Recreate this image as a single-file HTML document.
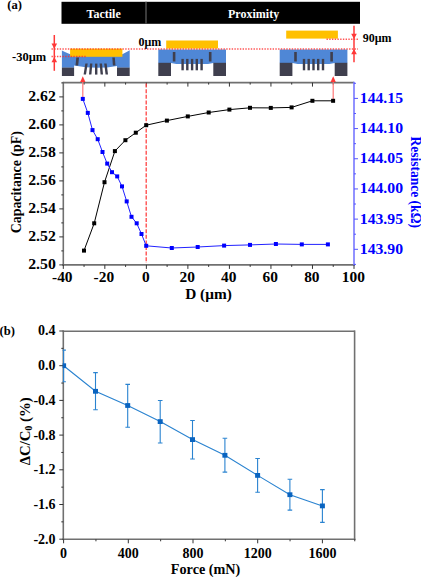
<!DOCTYPE html>
<html><head><meta charset="utf-8"><style>
html,body{margin:0;padding:0;background:#fff;}
svg{display:block;font-family:"Liberation Serif", serif;font-weight:bold;}
</style></head><body>
<svg width="421" height="577" viewBox="0 0 421 577">
<rect width="421" height="577" fill="#fff"/>
<text x="7.20" y="9.30" font-size="12.6" text-anchor="start" fill="#000" >(a)</text>
<rect x="61.50" y="1.80" width="298.50" height="22.00" fill="#000" />
<rect x="145.20" y="1.80" width="1.60" height="22.00" fill="#4a4a4a" />
<text x="103.60" y="17.80" font-size="12" text-anchor="middle" fill="#fff" >Tactile</text>
<text x="253.60" y="17.80" font-size="12" text-anchor="middle" fill="#fff" >Proximity</text>
<rect x="166.2" y="40.5" width="51.8" height="8.0" fill="#ffc000"/>
<path d="M158.3,49.5 H226.0 V63 H213.3 L208.0,64.0 H176.3 L171.0,63 H158.3 Z" fill="#4f87d6"/>
<rect x="158.30" y="62.80" width="12.70" height="13.20" fill="#3f3f4e" />
<rect x="213.30" y="62.80" width="12.70" height="13.20" fill="#3f3f4e" />
<rect x="172.80" y="52.00" width="2.60" height="9.50" fill="#3f3f4e" />
<rect x="208.90" y="52.00" width="2.60" height="9.50" fill="#3f3f4e" />
<rect x="181.40" y="58.90" width="2.40" height="11.40" fill="#3f3f4e" />
<rect x="186.10" y="58.90" width="2.40" height="11.40" fill="#3f3f4e" />
<rect x="190.90" y="58.90" width="2.40" height="11.40" fill="#3f3f4e" />
<rect x="195.60" y="58.90" width="2.40" height="11.40" fill="#3f3f4e" />
<rect x="200.40" y="58.90" width="2.40" height="11.40" fill="#3f3f4e" />
<rect x="286.2" y="30.6" width="51.7" height="8.0" fill="#ffc000"/>
<path d="M279.7,49.5 H347.4 V63 H334.7 L329.4,64.0 H297.7 L292.4,63 H279.7 Z" fill="#4f87d6"/>
<rect x="279.70" y="62.80" width="12.70" height="13.20" fill="#3f3f4e" />
<rect x="334.70" y="62.80" width="12.70" height="13.20" fill="#3f3f4e" />
<rect x="294.20" y="52.00" width="2.60" height="9.50" fill="#3f3f4e" />
<rect x="330.30" y="52.00" width="2.60" height="9.50" fill="#3f3f4e" />
<rect x="302.80" y="58.90" width="2.40" height="11.40" fill="#3f3f4e" />
<rect x="307.50" y="58.90" width="2.40" height="11.40" fill="#3f3f4e" />
<rect x="312.30" y="58.90" width="2.40" height="11.40" fill="#3f3f4e" />
<rect x="317.00" y="58.90" width="2.40" height="11.40" fill="#3f3f4e" />
<rect x="321.80" y="58.90" width="2.40" height="11.40" fill="#3f3f4e" />
<path d="M61.9,50.6 Q66,52.6 70.2,54.2 L122.3,54.2 Q126,52.4 129.7,50.2 V67.8 H117 V65.9 Q96,70 74.1,65.4 V67.8 H61.9 Z" fill="#4f87d6"/>
<rect x="70.1" y="48.6" width="52.3" height="8.2" fill="#ffc000"/>
<rect x="61.90" y="67.60" width="12.20" height="8.40" fill="#3f3f4e" />
<rect x="117.00" y="67.60" width="12.70" height="8.40" fill="#3f3f4e" />
<polygon points="76.3,57.4 79.0,57.4 78.2,65.4 75.5,65.4" fill="#3f3f4e"/>
<polygon points="112.3,57.4 114.8,57.4 115.5,65.4 112.9,65.4" fill="#3f3f4e"/>
<polygon points="85.3,63.6 87.7,63.6 86.0,74.6 83.6,74.6" fill="#3f3f4e"/>
<polygon points="90.0,63.6 92.4,63.6 91.4,74.6 89.0,74.6" fill="#3f3f4e"/>
<polygon points="95.0,63.6 97.4,63.6 97.4,74.6 95.0,74.6" fill="#3f3f4e"/>
<polygon points="99.6,63.6 102.0,63.6 103.0,74.6 100.6,74.6" fill="#3f3f4e"/>
<polygon points="104.2,63.6 106.60000000000001,63.6 108.0,74.6 105.6,74.6" fill="#3f3f4e"/>
<line x1="51.5" y1="49.0" x2="358" y2="49.0" stroke="#ff2a2a" stroke-width="1.4" stroke-dasharray="1.4 1.33" stroke-opacity="0.8"/>
<line x1="51.5" y1="56.5" x2="86" y2="56.5" stroke="#ff2a2a" stroke-width="1.4" stroke-dasharray="1.4 1.33" stroke-opacity="0.8"/>
<line x1="326.5" y1="39.2" x2="358" y2="39.2" stroke="#ff2a2a" stroke-width="1.4" stroke-dasharray="1.4 1.33" stroke-opacity="0.8"/>
<line x1="54.30" y1="35.00" x2="54.30" y2="70.80" stroke="#ff3838" stroke-width="1.5" />
<polygon points="51.50,43.60 57.10,43.60 54.30,48.80" fill="#ff3838"/>
<polygon points="51.50,62.20 57.10,62.20 54.30,57.00" fill="#ff3838"/>
<text x="12.00" y="61.40" font-size="12.5" text-anchor="start" fill="#000" >-30μm</text>
<line x1="354.00" y1="25.80" x2="354.00" y2="62.30" stroke="#ff3838" stroke-width="1.5" />
<polygon points="351.20,33.80 356.80,33.80 354.00,39.00" fill="#ff3838"/>
<polygon points="351.20,54.20 356.80,54.20 354.00,49.00" fill="#ff3838"/>
<text x="362.70" y="41.50" font-size="12" text-anchor="start" fill="#000" >90μm</text>
<text x="138.40" y="46.00" font-size="12" text-anchor="start" fill="#000" >0μm</text>
<g shape-rendering="auto">
<line x1="63.30" y1="82.60" x2="354.00" y2="82.60" stroke="#707070" stroke-width="1.6" />
<line x1="63.30" y1="81.80" x2="63.30" y2="265.70" stroke="#707070" stroke-width="1.6" />
<line x1="62.50" y1="264.90" x2="354.80" y2="264.90" stroke="#707070" stroke-width="1.6" />
<line x1="354.00" y1="81.80" x2="354.00" y2="265.70" stroke="#77f" stroke-width="1.6" />
</g>
<line x1="63.30" y1="264.90" x2="63.30" y2="268.90" stroke="#333" stroke-width="1" />
<line x1="84.06" y1="264.90" x2="84.06" y2="266.90" stroke="#333" stroke-width="1" />
<line x1="84.06" y1="82.60" x2="84.06" y2="84.60" stroke="#333" stroke-width="1" />
<line x1="104.83" y1="264.90" x2="104.83" y2="268.90" stroke="#333" stroke-width="1" />
<line x1="104.83" y1="82.60" x2="104.83" y2="86.60" stroke="#333" stroke-width="1" />
<line x1="125.59" y1="264.90" x2="125.59" y2="266.90" stroke="#333" stroke-width="1" />
<line x1="125.59" y1="82.60" x2="125.59" y2="84.60" stroke="#333" stroke-width="1" />
<line x1="146.36" y1="264.90" x2="146.36" y2="268.90" stroke="#333" stroke-width="1" />
<line x1="146.36" y1="82.60" x2="146.36" y2="86.60" stroke="#333" stroke-width="1" />
<line x1="167.12" y1="264.90" x2="167.12" y2="266.90" stroke="#333" stroke-width="1" />
<line x1="167.12" y1="82.60" x2="167.12" y2="84.60" stroke="#333" stroke-width="1" />
<line x1="187.89" y1="264.90" x2="187.89" y2="268.90" stroke="#333" stroke-width="1" />
<line x1="187.89" y1="82.60" x2="187.89" y2="86.60" stroke="#333" stroke-width="1" />
<line x1="208.65" y1="264.90" x2="208.65" y2="266.90" stroke="#333" stroke-width="1" />
<line x1="208.65" y1="82.60" x2="208.65" y2="84.60" stroke="#333" stroke-width="1" />
<line x1="229.41" y1="264.90" x2="229.41" y2="268.90" stroke="#333" stroke-width="1" />
<line x1="229.41" y1="82.60" x2="229.41" y2="86.60" stroke="#333" stroke-width="1" />
<line x1="250.18" y1="264.90" x2="250.18" y2="266.90" stroke="#333" stroke-width="1" />
<line x1="250.18" y1="82.60" x2="250.18" y2="84.60" stroke="#333" stroke-width="1" />
<line x1="270.94" y1="264.90" x2="270.94" y2="268.90" stroke="#333" stroke-width="1" />
<line x1="270.94" y1="82.60" x2="270.94" y2="86.60" stroke="#333" stroke-width="1" />
<line x1="291.71" y1="264.90" x2="291.71" y2="266.90" stroke="#333" stroke-width="1" />
<line x1="291.71" y1="82.60" x2="291.71" y2="84.60" stroke="#333" stroke-width="1" />
<line x1="312.47" y1="264.90" x2="312.47" y2="268.90" stroke="#333" stroke-width="1" />
<line x1="312.47" y1="82.60" x2="312.47" y2="86.60" stroke="#333" stroke-width="1" />
<line x1="333.24" y1="264.90" x2="333.24" y2="266.90" stroke="#333" stroke-width="1" />
<line x1="333.24" y1="82.60" x2="333.24" y2="84.60" stroke="#333" stroke-width="1" />
<line x1="354.00" y1="264.90" x2="354.00" y2="268.90" stroke="#333" stroke-width="1" />
<line x1="59.30" y1="264.90" x2="63.30" y2="264.90" stroke="#333" stroke-width="1" />
<line x1="61.30" y1="250.90" x2="63.30" y2="250.90" stroke="#333" stroke-width="1" />
<line x1="59.30" y1="236.90" x2="63.30" y2="236.90" stroke="#333" stroke-width="1" />
<line x1="61.30" y1="222.90" x2="63.30" y2="222.90" stroke="#333" stroke-width="1" />
<line x1="59.30" y1="208.90" x2="63.30" y2="208.90" stroke="#333" stroke-width="1" />
<line x1="61.30" y1="194.90" x2="63.30" y2="194.90" stroke="#333" stroke-width="1" />
<line x1="59.30" y1="180.90" x2="63.30" y2="180.90" stroke="#333" stroke-width="1" />
<line x1="61.30" y1="166.90" x2="63.30" y2="166.90" stroke="#333" stroke-width="1" />
<line x1="59.30" y1="152.90" x2="63.30" y2="152.90" stroke="#333" stroke-width="1" />
<line x1="61.30" y1="138.90" x2="63.30" y2="138.90" stroke="#333" stroke-width="1" />
<line x1="59.30" y1="124.90" x2="63.30" y2="124.90" stroke="#333" stroke-width="1" />
<line x1="61.30" y1="110.90" x2="63.30" y2="110.90" stroke="#333" stroke-width="1" />
<line x1="59.30" y1="96.90" x2="63.30" y2="96.90" stroke="#333" stroke-width="1" />
<line x1="61.30" y1="82.90" x2="63.30" y2="82.90" stroke="#333" stroke-width="1" />
<line x1="354.00" y1="264.39" x2="356.00" y2="264.39" stroke="#55f" stroke-width="1" />
<line x1="354.00" y1="249.30" x2="358.00" y2="249.30" stroke="#55f" stroke-width="1" />
<line x1="354.00" y1="234.21" x2="356.00" y2="234.21" stroke="#55f" stroke-width="1" />
<line x1="354.00" y1="219.12" x2="358.00" y2="219.12" stroke="#55f" stroke-width="1" />
<line x1="354.00" y1="204.03" x2="356.00" y2="204.03" stroke="#55f" stroke-width="1" />
<line x1="354.00" y1="188.94" x2="358.00" y2="188.94" stroke="#55f" stroke-width="1" />
<line x1="354.00" y1="173.85" x2="356.00" y2="173.85" stroke="#55f" stroke-width="1" />
<line x1="354.00" y1="158.76" x2="358.00" y2="158.76" stroke="#55f" stroke-width="1" />
<line x1="354.00" y1="143.67" x2="356.00" y2="143.67" stroke="#55f" stroke-width="1" />
<line x1="354.00" y1="128.58" x2="358.00" y2="128.58" stroke="#55f" stroke-width="1" />
<line x1="354.00" y1="113.49" x2="356.00" y2="113.49" stroke="#55f" stroke-width="1" />
<line x1="354.00" y1="98.40" x2="358.00" y2="98.40" stroke="#55f" stroke-width="1" />
<line x1="354.00" y1="83.31" x2="356.00" y2="83.31" stroke="#55f" stroke-width="1" />
<text x="55.80" y="269.00" font-size="14" text-anchor="end" fill="#000" textLength="27.60" lengthAdjust="spacingAndGlyphs" >2.50</text>
<text x="55.80" y="241.00" font-size="14" text-anchor="end" fill="#000" textLength="27.60" lengthAdjust="spacingAndGlyphs" >2.52</text>
<text x="55.80" y="213.00" font-size="14" text-anchor="end" fill="#000" textLength="27.60" lengthAdjust="spacingAndGlyphs" >2.54</text>
<text x="55.80" y="185.00" font-size="14" text-anchor="end" fill="#000" textLength="27.60" lengthAdjust="spacingAndGlyphs" >2.56</text>
<text x="55.80" y="157.00" font-size="14" text-anchor="end" fill="#000" textLength="27.60" lengthAdjust="spacingAndGlyphs" >2.58</text>
<text x="55.80" y="129.00" font-size="14" text-anchor="end" fill="#000" textLength="27.60" lengthAdjust="spacingAndGlyphs" >2.60</text>
<text x="55.80" y="101.00" font-size="14" text-anchor="end" fill="#000" textLength="27.60" lengthAdjust="spacingAndGlyphs" >2.62</text>
<text x="359.80" y="253.70" font-size="14" text-anchor="start" fill="#00f" textLength="43.20" lengthAdjust="spacingAndGlyphs" >143.90</text>
<text x="359.80" y="223.52" font-size="14" text-anchor="start" fill="#00f" textLength="43.20" lengthAdjust="spacingAndGlyphs" >143.95</text>
<text x="359.80" y="193.34" font-size="14" text-anchor="start" fill="#00f" textLength="43.20" lengthAdjust="spacingAndGlyphs" >144.00</text>
<text x="359.80" y="163.16" font-size="14" text-anchor="start" fill="#00f" textLength="43.20" lengthAdjust="spacingAndGlyphs" >144.05</text>
<text x="359.80" y="132.98" font-size="14" text-anchor="start" fill="#00f" textLength="43.20" lengthAdjust="spacingAndGlyphs" >144.10</text>
<text x="359.80" y="102.80" font-size="14" text-anchor="start" fill="#00f" textLength="43.20" lengthAdjust="spacingAndGlyphs" >144.15</text>
<text x="62.30" y="281.50" font-size="14" text-anchor="middle" fill="#000" textLength="20.50" lengthAdjust="spacingAndGlyphs" >-40</text>
<text x="103.83" y="281.50" font-size="14" text-anchor="middle" fill="#000" textLength="20.50" lengthAdjust="spacingAndGlyphs" >-20</text>
<text x="145.76" y="281.50" font-size="14" text-anchor="middle" fill="#000" textLength="7.70" lengthAdjust="spacingAndGlyphs" >0</text>
<text x="187.29" y="281.50" font-size="14" text-anchor="middle" fill="#000" textLength="15.40" lengthAdjust="spacingAndGlyphs" >20</text>
<text x="228.81" y="281.50" font-size="14" text-anchor="middle" fill="#000" textLength="15.40" lengthAdjust="spacingAndGlyphs" >40</text>
<text x="270.34" y="281.50" font-size="14" text-anchor="middle" fill="#000" textLength="15.40" lengthAdjust="spacingAndGlyphs" >60</text>
<text x="311.87" y="281.50" font-size="14" text-anchor="middle" fill="#000" textLength="15.40" lengthAdjust="spacingAndGlyphs" >80</text>
<text x="353.40" y="281.50" font-size="14" text-anchor="middle" fill="#000" textLength="23.10" lengthAdjust="spacingAndGlyphs" >100</text>
<text x="208.50" y="299.00" font-size="14" text-anchor="middle" fill="#000" textLength="46.60" lengthAdjust="spacingAndGlyphs" >D (μm)</text>
<text x="0" y="0" font-size="14" text-anchor="middle" transform="translate(21.0,182.2) rotate(-90)" textLength="102" lengthAdjust="spacingAndGlyphs">Capacitance (pF)</text>
<text x="0" y="0" font-size="14" text-anchor="middle" fill="#00f" transform="translate(410.8,182.2) rotate(90)" textLength="91.5" lengthAdjust="spacingAndGlyphs">Resistance (kΩ)</text>
<line x1="146.20" y1="83.60" x2="146.20" y2="262.90" stroke="#ff4444" stroke-width="1.3" stroke-dasharray="4 1.6"/>
<line x1="82.80" y1="82.00" x2="82.80" y2="98.90" stroke="#f77" stroke-width="1.2" />
<polygon points="80.20,82.10 85.40,82.10 82.80,76.30" fill="#ff3838"/>
<line x1="333.20" y1="82.00" x2="333.20" y2="100.80" stroke="#f77" stroke-width="1.2" />
<polygon points="330.60,82.10 335.80,82.10 333.20,76.30" fill="#ff3838"/>
<polyline points="84.0,250.6 94.2,223.3 104.5,182.2 114.9,151.1 125.4,140.2 135.8,132.7 146.2,125.2 166.9,120.6 187.8,116.4 208.7,112.5 229.4,109.6 250.0,107.8 270.8,107.9 291.6,107.4 312.4,100.8 333.1,100.8" fill="none" stroke="#000" stroke-width="1"/>
<polyline points="82.8,98.9 87.8,112.9 92.5,130.1 97.7,139.2 102.5,152.0 107.2,163.6 112.0,172.2 117.2,176.4 122.0,186.4 126.7,201.4 131.5,216.8 136.7,223.3 141.5,234.0 146.2,245.8 171.8,248.0 197.7,247.0 224.1,245.6 250.0,244.9 275.9,244.0 301.8,244.4 327.9,244.4" fill="none" stroke="#22f" stroke-width="1"/>
<rect x="82.00" y="248.60" width="4.00" height="4.00" fill="#000" />
<rect x="92.20" y="221.30" width="4.00" height="4.00" fill="#000" />
<rect x="102.50" y="180.20" width="4.00" height="4.00" fill="#000" />
<rect x="112.90" y="149.10" width="4.00" height="4.00" fill="#000" />
<rect x="123.40" y="138.20" width="4.00" height="4.00" fill="#000" />
<rect x="133.80" y="130.70" width="4.00" height="4.00" fill="#000" />
<rect x="144.20" y="123.20" width="4.00" height="4.00" fill="#000" />
<rect x="164.90" y="118.60" width="4.00" height="4.00" fill="#000" />
<rect x="185.80" y="114.40" width="4.00" height="4.00" fill="#000" />
<rect x="206.70" y="110.50" width="4.00" height="4.00" fill="#000" />
<rect x="227.40" y="107.60" width="4.00" height="4.00" fill="#000" />
<rect x="248.00" y="105.80" width="4.00" height="4.00" fill="#000" />
<rect x="268.80" y="105.90" width="4.00" height="4.00" fill="#000" />
<rect x="289.60" y="105.40" width="4.00" height="4.00" fill="#000" />
<rect x="310.40" y="98.80" width="4.00" height="4.00" fill="#000" />
<rect x="331.10" y="98.80" width="4.00" height="4.00" fill="#000" />
<rect x="80.80" y="96.90" width="4.00" height="4.00" fill="#00f" />
<rect x="85.80" y="110.90" width="4.00" height="4.00" fill="#00f" />
<rect x="90.50" y="128.10" width="4.00" height="4.00" fill="#00f" />
<rect x="95.70" y="137.20" width="4.00" height="4.00" fill="#00f" />
<rect x="100.50" y="150.00" width="4.00" height="4.00" fill="#00f" />
<rect x="105.20" y="161.60" width="4.00" height="4.00" fill="#00f" />
<rect x="110.00" y="170.20" width="4.00" height="4.00" fill="#00f" />
<rect x="115.20" y="174.40" width="4.00" height="4.00" fill="#00f" />
<rect x="120.00" y="184.40" width="4.00" height="4.00" fill="#00f" />
<rect x="124.70" y="199.40" width="4.00" height="4.00" fill="#00f" />
<rect x="129.50" y="214.80" width="4.00" height="4.00" fill="#00f" />
<rect x="134.70" y="221.30" width="4.00" height="4.00" fill="#00f" />
<rect x="139.50" y="232.00" width="4.00" height="4.00" fill="#00f" />
<rect x="144.20" y="243.80" width="4.00" height="4.00" fill="#00f" />
<rect x="169.80" y="246.00" width="4.00" height="4.00" fill="#00f" />
<rect x="195.70" y="245.00" width="4.00" height="4.00" fill="#00f" />
<rect x="222.10" y="243.60" width="4.00" height="4.00" fill="#00f" />
<rect x="248.00" y="242.90" width="4.00" height="4.00" fill="#00f" />
<rect x="273.90" y="242.00" width="4.00" height="4.00" fill="#00f" />
<rect x="299.80" y="242.40" width="4.00" height="4.00" fill="#00f" />
<rect x="325.90" y="242.40" width="4.00" height="4.00" fill="#00f" />
<text x="-0.40" y="335.20" font-size="12.6" text-anchor="start" fill="#000" >(b)</text>
<line x1="63.30" y1="331.20" x2="354.60" y2="331.20" stroke="#707070" stroke-width="1.6" />
<line x1="63.30" y1="330.40" x2="63.30" y2="540.10" stroke="#707070" stroke-width="1.6" />
<line x1="62.50" y1="539.30" x2="355.40" y2="539.30" stroke="#707070" stroke-width="1.6" />
<line x1="354.60" y1="330.40" x2="354.60" y2="540.10" stroke="#707070" stroke-width="1.6" />
<line x1="63.60" y1="539.30" x2="63.60" y2="543.30" stroke="#333" stroke-width="1" />
<line x1="95.95" y1="539.30" x2="95.95" y2="541.30" stroke="#333" stroke-width="1" />
<line x1="128.30" y1="539.30" x2="128.30" y2="543.30" stroke="#333" stroke-width="1" />
<line x1="160.65" y1="539.30" x2="160.65" y2="541.30" stroke="#333" stroke-width="1" />
<line x1="193.00" y1="539.30" x2="193.00" y2="543.30" stroke="#333" stroke-width="1" />
<line x1="225.35" y1="539.30" x2="225.35" y2="541.30" stroke="#333" stroke-width="1" />
<line x1="257.70" y1="539.30" x2="257.70" y2="543.30" stroke="#333" stroke-width="1" />
<line x1="290.05" y1="539.30" x2="290.05" y2="541.30" stroke="#333" stroke-width="1" />
<line x1="322.40" y1="539.30" x2="322.40" y2="543.30" stroke="#333" stroke-width="1" />
<line x1="354.75" y1="539.30" x2="354.75" y2="541.30" stroke="#333" stroke-width="1" />
<line x1="59.30" y1="331.00" x2="63.30" y2="331.00" stroke="#333" stroke-width="1" />
<line x1="61.30" y1="348.35" x2="63.30" y2="348.35" stroke="#333" stroke-width="1" />
<line x1="59.30" y1="365.70" x2="63.30" y2="365.70" stroke="#333" stroke-width="1" />
<line x1="61.30" y1="383.05" x2="63.30" y2="383.05" stroke="#333" stroke-width="1" />
<line x1="59.30" y1="400.40" x2="63.30" y2="400.40" stroke="#333" stroke-width="1" />
<line x1="61.30" y1="417.75" x2="63.30" y2="417.75" stroke="#333" stroke-width="1" />
<line x1="59.30" y1="435.10" x2="63.30" y2="435.10" stroke="#333" stroke-width="1" />
<line x1="61.30" y1="452.45" x2="63.30" y2="452.45" stroke="#333" stroke-width="1" />
<line x1="59.30" y1="469.80" x2="63.30" y2="469.80" stroke="#333" stroke-width="1" />
<line x1="61.30" y1="487.15" x2="63.30" y2="487.15" stroke="#333" stroke-width="1" />
<line x1="59.30" y1="504.50" x2="63.30" y2="504.50" stroke="#333" stroke-width="1" />
<line x1="61.30" y1="521.85" x2="63.30" y2="521.85" stroke="#333" stroke-width="1" />
<line x1="59.30" y1="539.20" x2="63.30" y2="539.20" stroke="#333" stroke-width="1" />
<text x="55.60" y="335.40" font-size="14" text-anchor="end" fill="#000" >0.4</text>
<text x="55.60" y="370.10" font-size="14" text-anchor="end" fill="#000" >0.0</text>
<text x="55.60" y="404.80" font-size="14" text-anchor="end" fill="#000" >-0.4</text>
<text x="55.60" y="439.50" font-size="14" text-anchor="end" fill="#000" >-0.8</text>
<text x="55.60" y="474.20" font-size="14" text-anchor="end" fill="#000" >-1.2</text>
<text x="55.60" y="508.90" font-size="14" text-anchor="end" fill="#000" >-1.6</text>
<text x="55.60" y="543.60" font-size="14" text-anchor="end" fill="#000" >-2.0</text>
<text x="63.60" y="557.50" font-size="14" text-anchor="middle" fill="#000" >0</text>
<text x="128.30" y="557.50" font-size="14" text-anchor="middle" fill="#000" >400</text>
<text x="193.00" y="557.50" font-size="14" text-anchor="middle" fill="#000" >800</text>
<text x="257.70" y="557.50" font-size="14" text-anchor="middle" fill="#000" >1200</text>
<text x="322.40" y="557.50" font-size="14" text-anchor="middle" fill="#000" >1600</text>
<text x="205.60" y="574.10" font-size="14.2" text-anchor="middle" fill="#000" >Force (mN)</text>
<text x="0" y="0" font-size="14.8" text-anchor="middle" transform="translate(29.6,431.3) rotate(-90)">ΔC/C<tspan font-size="9.5" dy="2">0</tspan><tspan dy="-2"> (%)</tspan></text>
<defs><clipPath id="cb"><rect x="62.599999999999994" y="331.2" width="291.3" height="208.09999999999997"/></clipPath></defs>
<g clip-path="url(#cb)">
<polyline points="63.6,365.7 95.5,391.3 127.7,405.5 160.2,421.6 192.5,439.6 224.9,455.3 257.6,475.4 289.9,494.7 322.4,505.9" fill="none" stroke="#2a83d0" stroke-width="1.1"/>
<line x1="63.60" y1="350.10" x2="63.60" y2="381.70" stroke="#2a83d0" stroke-width="1.1" />
<line x1="61.30" y1="350.10" x2="65.90" y2="350.10" stroke="#2a83d0" stroke-width="1.1" />
<line x1="61.30" y1="381.70" x2="65.90" y2="381.70" stroke="#2a83d0" stroke-width="1.1" />
<rect x="61.10" y="363.30" width="5.00" height="4.80" fill="#0a64c0" />
<line x1="95.50" y1="372.60" x2="95.50" y2="409.70" stroke="#2a83d0" stroke-width="1.1" />
<line x1="93.20" y1="372.60" x2="97.80" y2="372.60" stroke="#2a83d0" stroke-width="1.1" />
<line x1="93.20" y1="409.70" x2="97.80" y2="409.70" stroke="#2a83d0" stroke-width="1.1" />
<rect x="93.00" y="388.90" width="5.00" height="4.80" fill="#0a64c0" />
<line x1="127.70" y1="384.40" x2="127.70" y2="427.20" stroke="#2a83d0" stroke-width="1.1" />
<line x1="125.40" y1="384.40" x2="130.00" y2="384.40" stroke="#2a83d0" stroke-width="1.1" />
<line x1="125.40" y1="427.20" x2="130.00" y2="427.20" stroke="#2a83d0" stroke-width="1.1" />
<rect x="125.20" y="403.10" width="5.00" height="4.80" fill="#0a64c0" />
<line x1="160.20" y1="400.50" x2="160.20" y2="443.00" stroke="#2a83d0" stroke-width="1.1" />
<line x1="157.90" y1="400.50" x2="162.50" y2="400.50" stroke="#2a83d0" stroke-width="1.1" />
<line x1="157.90" y1="443.00" x2="162.50" y2="443.00" stroke="#2a83d0" stroke-width="1.1" />
<rect x="157.70" y="419.20" width="5.00" height="4.80" fill="#0a64c0" />
<line x1="192.50" y1="420.50" x2="192.50" y2="459.00" stroke="#2a83d0" stroke-width="1.1" />
<line x1="190.20" y1="420.50" x2="194.80" y2="420.50" stroke="#2a83d0" stroke-width="1.1" />
<line x1="190.20" y1="459.00" x2="194.80" y2="459.00" stroke="#2a83d0" stroke-width="1.1" />
<rect x="190.00" y="437.20" width="5.00" height="4.80" fill="#0a64c0" />
<line x1="224.90" y1="438.20" x2="224.90" y2="472.10" stroke="#2a83d0" stroke-width="1.1" />
<line x1="222.60" y1="438.20" x2="227.20" y2="438.20" stroke="#2a83d0" stroke-width="1.1" />
<line x1="222.60" y1="472.10" x2="227.20" y2="472.10" stroke="#2a83d0" stroke-width="1.1" />
<rect x="222.40" y="452.90" width="5.00" height="4.80" fill="#0a64c0" />
<line x1="257.60" y1="458.50" x2="257.60" y2="492.20" stroke="#2a83d0" stroke-width="1.1" />
<line x1="255.30" y1="458.50" x2="259.90" y2="458.50" stroke="#2a83d0" stroke-width="1.1" />
<line x1="255.30" y1="492.20" x2="259.90" y2="492.20" stroke="#2a83d0" stroke-width="1.1" />
<rect x="255.10" y="473.00" width="5.00" height="4.80" fill="#0a64c0" />
<line x1="289.90" y1="479.30" x2="289.90" y2="510.10" stroke="#2a83d0" stroke-width="1.1" />
<line x1="287.60" y1="479.30" x2="292.20" y2="479.30" stroke="#2a83d0" stroke-width="1.1" />
<line x1="287.60" y1="510.10" x2="292.20" y2="510.10" stroke="#2a83d0" stroke-width="1.1" />
<rect x="287.40" y="492.30" width="5.00" height="4.80" fill="#0a64c0" />
<line x1="322.40" y1="489.60" x2="322.40" y2="522.40" stroke="#2a83d0" stroke-width="1.1" />
<line x1="320.10" y1="489.60" x2="324.70" y2="489.60" stroke="#2a83d0" stroke-width="1.1" />
<line x1="320.10" y1="522.40" x2="324.70" y2="522.40" stroke="#2a83d0" stroke-width="1.1" />
<rect x="319.90" y="503.50" width="5.00" height="4.80" fill="#0a64c0" />
</g>
</svg>
</body></html>
